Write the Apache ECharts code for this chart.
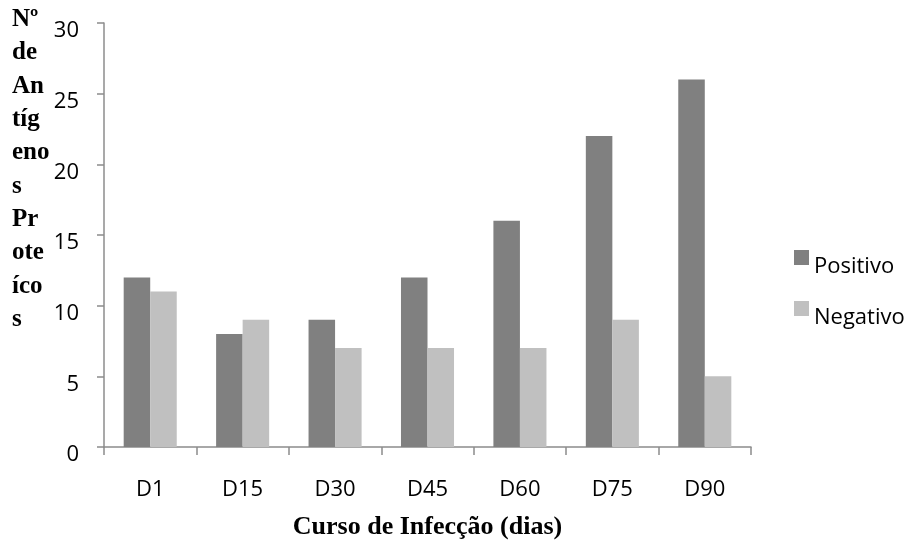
<!DOCTYPE html>
<html>
<head>
<meta charset="utf-8">
<script src="https://cdn.jsdelivr.net/npm/echarts@6/dist/echarts.min.js"></script>
<style>
  html, body { margin: 0; padding: 0; background: #fff; }
  #chart { width: 913px; height: 545px; }
</style>
</head>
<body>
<div id="chart"></div>
<script>
// Days of infection and antigen counts per group
const categories = ['D1', 'D15', 'D30', 'D45', 'D60', 'D75', 'D90'];
const positivo = [12, 8, 9, 12, 16, 22, 26];
const negativo = [11, 9, 7, 7, 7, 9, 5];
const yTicks = { min: 0, max: 30, interval: 5 };

const axisGray = '#8c8c8c';
const labelFont = '"Open Sans", "Liberation Sans", sans-serif';
const titleFont = '"Liberation Serif", "DejaVu Serif", serif';

// legend swatch sits above the text centre: a square plus an invisible speck further down
const swatch = 'path://M0,0h15v15h-15z M0,33h0.01v0.01h-0.01z';

const chart = echarts.init(document.getElementById('chart'), null, { renderer: 'canvas' });

chart.setOption({
  animation: false,
  backgroundColor: '#ffffff',
  grid: { left: 104, right: 162, top: 23, bottom: 98, containLabel: false, outerBoundsMode: 'none' },
  legend: {
    orient: 'vertical',
    left: 794,
    top: 250,
    padding: 0,
    itemWidth: 15,
    itemHeight: 33,
    itemGap: 18,
    icon: swatch,
    textStyle: { fontFamily: labelFont, fontSize: 22, color: '#000' },
    data: ['Positivo', 'Negativo']
  },
  xAxis: {
    type: 'category',
    data: categories,
    axisLine: { lineStyle: { color: axisGray, width: 1.5 } },
    axisTick: { show: true, length: 8, alignWithLabel: false, lineStyle: { color: axisGray, width: 1.5 } },
    axisLabel: { margin: 32, fontFamily: labelFont, fontSize: 22, color: '#000' },
    name: 'Curso de Infecção (dias)',
    nameLocation: 'middle',
    nameGap: 67,
    nameTextStyle: { fontFamily: titleFont, fontSize: 26, fontWeight: 'bold', color: '#000' }
  },
  yAxis: {
    type: 'value',
    min: yTicks.min,
    max: yTicks.max,
    interval: yTicks.interval,
    splitLine: { show: false },
    axisLine: { show: true, lineStyle: { color: axisGray, width: 1.5 } },
    axisTick: { show: true, length: 7, lineStyle: { color: axisGray, width: 1.5 } },
    axisLabel: {
      margin: 25,
      verticalAlign: 'top',
      lineHeight: 16,
      fontFamily: labelFont,
      fontSize: 22,
      color: '#000'
    }
  },
  graphic: [{
    type: 'text',
    left: 12,
    top: 3,
    style: {
      text: 'Nº\nde\nAn\ntíg\neno\ns\nPr\note\níco\ns',
      fontFamily: titleFont,
      fontSize: 25,
      fontWeight: 'bold',
      lineHeight: 33.3,
      fill: '#000'
    }
  }],
  series: [
    {
      name: 'Positivo',
      type: 'bar',
      data: positivo,
      barWidth: '28.7%',
      barGap: '0%',
      itemStyle: { color: '#808080' }
    },
    {
      name: 'Negativo',
      type: 'bar',
      data: negativo,
      barWidth: '28.7%',
      itemStyle: { color: '#c0c0c0' }
    }
  ]
});
</script>
</body>
</html>
